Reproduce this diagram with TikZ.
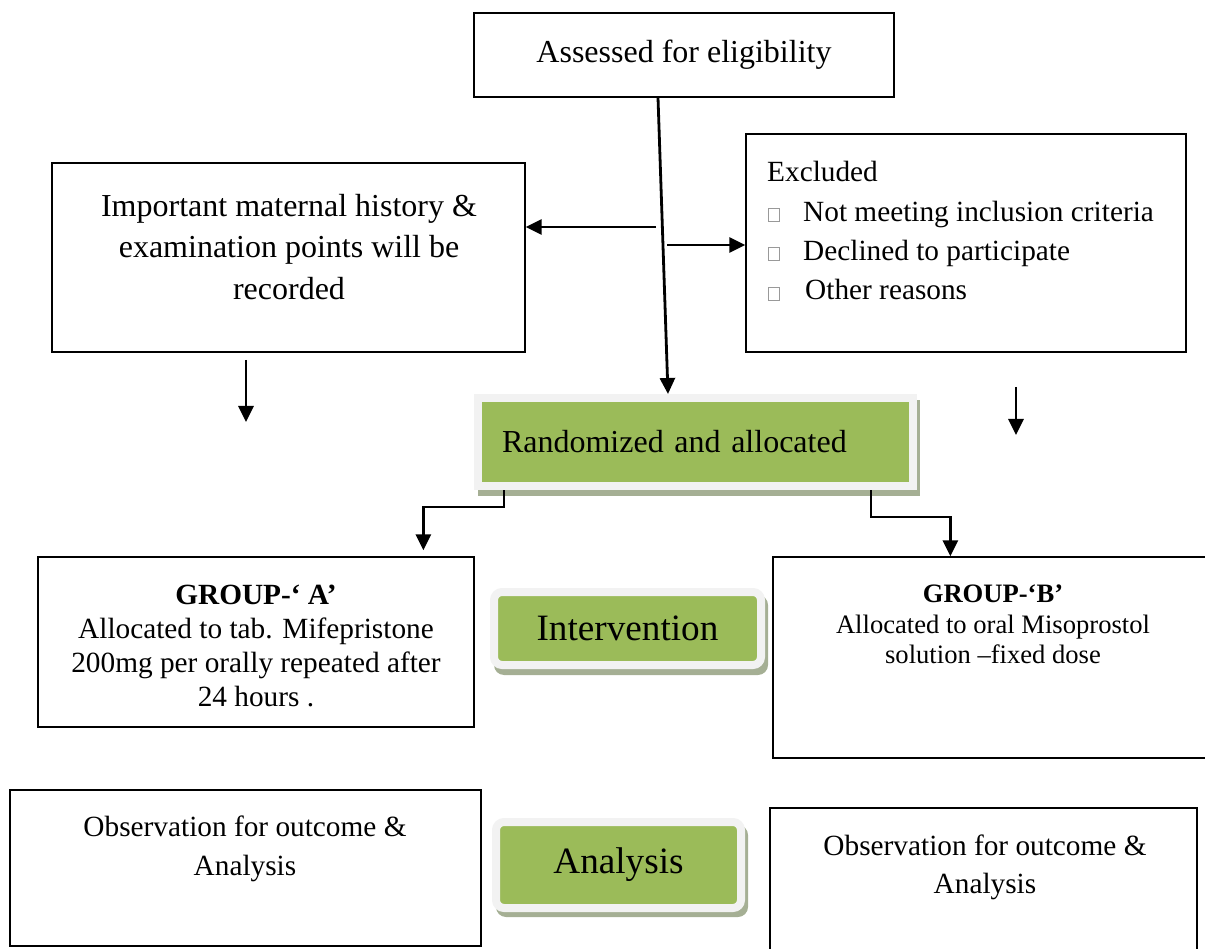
\documentclass[tikz,border=0pt]{standalone}
\usepackage{fontspec}
\setmainfont{Liberation Serif}
\usetikzlibrary{arrows.meta,calc}
\definecolor{grn}{HTML}{9BBB59}
\definecolor{frm}{HTML}{F2F2F2}
\definecolor{shd}{HTML}{A5AF94}
\definecolor{bxg}{HTML}{999999}
\newcommand{\bulletbox}{\textcolor{bxg}{\fboxsep=0pt\fboxrule=1pt\fbox{\rule{0pt}{12pt}\rule{10pt}{0pt}}}}
\tikzset{
  box/.style={draw, line width=1.3pt, inner sep=0pt},
  txt/.style={inner sep=0pt, align=center},
  greenbox/.style={fill=grn, draw=frm, line width=8pt},
  arr/.style={line width=2.8pt, -{Triangle[length=16pt,width=15pt]}}
}
\begin{document}
\begin{tikzpicture}[x=1pt,y=-1pt]
\useasboundingbox (0,0) rectangle (1205,949);

% top box
\node[box, minimum width=420pt, minimum height=84pt,
      font=\fontsize{32}{40}\selectfont] (assess) at (684,55) {Assessed for eligibility};

% important history
\node[box, minimum width=473pt, minimum height=189pt] (imp) at (288.5,257.5) {};
\node[txt, font=\fontsize{32}{41.5}\selectfont] (imptxt) at (289,247)
  {Important maternal history \&\\examination points will be\\recorded};

% excluded
\node[box, minimum width=440pt, minimum height=218pt] (excl) at (966,243) {};
\node[inner sep=0pt, align=left, anchor=west, font=\fontsize{29.3}{39.3}\selectfont] (excltxt) at (767,231)
  {Excluded\\
   \makebox[36pt][l]{\hspace*{1pt}\bulletbox}Not meeting inclusion criteria\\
   \makebox[36pt][l]{\hspace*{1pt}\bulletbox}Declined to participate\\
   \makebox[38pt][l]{\hspace*{1pt}\bulletbox}Other reasons};

% randomized
\fill[shd] (478,400) rectangle (920,496);
\node[greenbox, minimum width=435pt, minimum height=88pt, text width=387pt,
      inner xsep=24pt, inner ysep=0pt, align=left,
      font=\fontsize{32}{40}\selectfont] (rand) at (695.5,442) {Randomized and allocated};

% group A
\node[box, minimum width=436pt, minimum height=170pt] (grpA) at (256,642) {};
\node[txt, font=\fontsize{29.3}{33.7}\selectfont] (grpAtxt) at (256,646)
  {\textbf{GROUP-‘ A’}\\Allocated to tab. Mifepristone\\200mg per orally repeated after\\24 hours .};

% group B (right side runs off the page)
\node[box, minimum width=440pt, minimum height=201pt] (grpB) at (993,657.5) {};
\node[txt, font=\fontsize{26.6}{30.6}\selectfont] (grpBtxt) at (993,624.5)
  {\textbf{GROUP-‘B’}\\Allocated to oral Misoprostol\\solution –fixed dose};

% intervention
\fill[shd, rounded corners=10pt] (494,595) rectangle (768,675);
\node[greenbox, rounded corners=8pt, minimum width=267pt, minimum height=73pt,
      inner sep=0pt, font=\fontsize{37.2}{44}\selectfont] (interv) at (627.5,628.5) {Intervention};

% analysis
\fill[shd, rounded corners=10pt] (496,825) rectangle (748,917);
\node[greenbox, rounded corners=8pt, minimum width=245pt, minimum height=86pt,
      inner sep=0pt, font=\fontsize{37.2}{44}\selectfont] (anal) at (618.5,865) {Analysis};

% observation boxes
\node[box, minimum width=471pt, minimum height=156pt] (obsL) at (245.5,868) {};
\node[txt, font=\fontsize{29.3}{39}\selectfont] (obsLtxt) at (245,849)
  {Observation for outcome \&\\Analysis};
\node[box, minimum width=427pt, minimum height=146pt] (obsR) at (983.5,881) {};
\node[txt, font=\fontsize{29.3}{38}\selectfont] (obsRtxt) at (985,867)
  {Observation for outcome \&\\Analysis};

% connectors
\draw[arr] ([xshift=-26pt]assess.south) -- ([xshift=-27.5pt]rand.north);
\coordinate (jl) at (656,227);
\draw[arr] (jl) -- (imp.east |- jl);
\coordinate (jr) at (667,245);
\draw[arr] (jr) -- (excl.west |- jr);
\coordinate (d1a) at (246,360);
\coordinate (d1b) at (246,422);
\draw[arr] (d1a) -- (d1b);
\coordinate (d2a) at (1016,387);
\coordinate (d2b) at (1016,435);
\draw[arr] (d2a) -- (d2b);
\draw[arr] ($(rand.south west)+(30,0)$) -- ++(0,17) -| ($(grpA.north west)+(386,-6)$);
\draw[arr] ($(rand.south east)+(-46,0)$) -- ++(0,27) -| ($(grpB.north west)+(178,0)$);
\end{tikzpicture}
\end{document}
